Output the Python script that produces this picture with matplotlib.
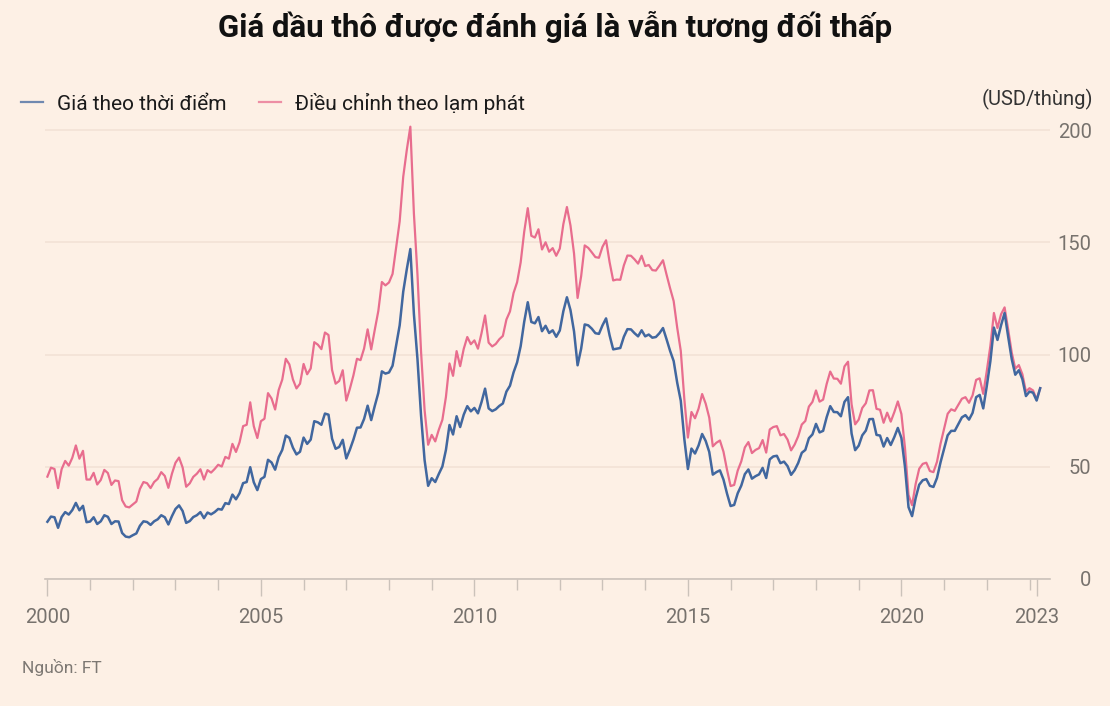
import matplotlib
matplotlib.use("Agg")
import matplotlib.pyplot as plt
import numpy as np

# ---------------- data (monthly, Jan 2000 - Apr 2023), USD/barrel ----------------
nominal = [
    # 2000
    25.5, 27.8, 27.5, 22.8, 27.6, 29.8, 28.7, 30.7, 33.9, 30.6, 32.6, 25.3,
    # 2001
    25.6, 27.5, 24.5, 25.7, 28.4, 27.7, 24.5, 25.7, 25.6, 20.5, 18.9, 18.6,
    # 2002
    19.5, 20.3, 23.7, 25.7, 25.4, 24.1, 25.7, 26.6, 28.4, 27.5, 24.3, 28.0,
    # 2003
    31.2, 32.8, 30.3, 25.0, 25.8, 27.6, 28.4, 29.8, 27.1, 29.6, 28.8, 29.8,
    # 2004
    31.2, 30.9, 33.8, 33.4, 37.6, 35.5, 38.2, 42.7, 43.2, 49.8, 43.1, 39.6,
    # 2005
    44.5, 45.5, 53.1, 51.9, 48.7, 54.3, 57.5, 63.9, 62.9, 58.5, 55.5, 56.7,
    # 2006
    63.0, 60.2, 62.1, 70.3, 69.8, 68.7, 73.7, 73.2, 62.5, 58.0, 58.8, 62.0,
    # 2007
    53.7, 57.6, 62.1, 67.4, 67.5, 71.3, 77.2, 70.8, 77.1, 82.9, 92.5, 91.5,
    # 2008
    92.0, 95.0, 104.0, 113.0, 128.0, 138.0, 147.0, 118.0, 98.0, 73.0, 53.0, 41.5,
    # 2009
    44.9, 43.2, 46.8, 50.1, 57.5, 68.6, 64.4, 72.5, 67.7, 73.2, 77.0, 74.7,
    # 2010
    76.2, 73.8, 78.8, 84.8, 76.0, 74.8, 75.6, 77.1, 78.2, 83.5, 86.1, 92.0,
    # 2011
    96.5, 103.7, 114.6, 123.3, 114.5, 113.9, 116.7, 110.4, 112.8, 109.6, 110.8, 107.9,
    # 2012
    110.7, 119.3, 125.5, 119.8, 110.3, 95.2, 102.6, 113.4, 113.0, 111.5, 109.5, 109.2,
    # 2013
    113.0, 116.1, 108.5, 102.3, 102.6, 102.9, 107.9, 111.3, 111.2, 109.5, 108.1, 110.8,
    # 2014
    108.1, 108.9, 107.5, 107.8, 109.5, 111.8, 106.8, 101.6, 97.1, 87.4, 79.4, 62.3,
    # 2015
    49.0, 58.1, 55.9, 59.5, 64.6, 61.5, 56.6, 46.5, 47.6, 48.4, 44.3, 38.0,
    # 2016
    32.5, 33.0, 38.2, 41.6, 46.7, 48.8, 44.7, 45.8, 46.6, 49.5, 45.0, 53.3,
    # 2017
    54.6, 54.9, 51.6, 52.3, 50.3, 46.4, 48.5, 51.7, 56.2, 57.5, 62.7, 64.4,
    # 2018
    69.1, 65.3, 66.0, 72.1, 77.0, 74.4, 74.3, 72.5, 78.9, 81.0, 64.8, 57.4,
    # 2019
    59.4, 64.0, 66.1, 71.2, 71.3, 64.2, 63.9, 59.0, 62.8, 59.7, 63.2, 67.3,
    # 2020
    62.8, 50.0, 32.0, 28.0, 36.0, 42.0, 44.0, 44.5, 41.5, 41.0, 45.0, 52.0,
    # 2021
    58.0, 64.0, 66.0, 66.0, 69.0, 72.0, 73.0, 71.0, 74.0, 81.0, 82.0, 76.0,
    # 2022
    86.0, 97.0, 112.0, 106.5, 113.0, 118.5, 108.0, 98.0, 91.0, 93.0, 89.0, 81.5,
    # 2023
    83.5, 83.0, 79.5, 85.0,
]

inflation_adjusted = [
    # 2000
    45.6, 49.6, 49.0, 40.5, 48.9, 52.6, 50.5, 54.0, 59.5, 53.6, 57.1, 44.3,
    # 2001
    44.3, 47.3, 42.1, 44.1, 48.6, 47.2, 41.9, 43.9, 43.6, 35.1, 32.3, 31.9,
    # 2002
    33.2, 34.5, 40.1, 43.2, 42.7, 40.5, 43.2, 44.6, 47.6, 45.9, 40.6, 46.9,
    # 2003
    51.8, 54.1, 49.7, 41.1, 42.6, 45.5, 46.9, 48.9, 44.3, 48.5, 47.4, 49.0,
    # 2004
    50.9, 50.1, 54.4, 53.6, 60.2, 56.6, 60.9, 68.1, 68.7, 78.7, 68.1, 62.8,
    # 2005
    70.3, 71.4, 82.8, 80.4, 75.5, 84.2, 88.8, 98.1, 95.6, 88.9, 84.9, 87.0,
    # 2006
    95.8, 91.2, 93.8, 105.5, 104.4, 102.4, 109.8, 108.7, 93.1, 87.0, 88.2, 93.0,
    # 2007
    79.5, 84.7, 90.7, 98.1, 97.5, 102.7, 111.2, 102.3, 111.0, 119.4, 132.3, 130.8,
    # 2008
    132.1, 135.9, 147.7, 159.3, 179.2, 191.1, 201.5, 162.8, 135.7, 101.5, 75.3, 59.8,
    # 2009
    64.2, 61.3, 66.5, 70.9, 81.1, 96.0, 90.5, 101.5, 94.8, 102.5, 107.8, 104.6,
    # 2010
    106.3, 102.6, 109.5, 117.4, 105.3, 103.6, 104.7, 106.8, 108.3, 115.6, 119.2, 127.4,
    # 2011
    132.2, 141.0, 154.7, 165.2, 152.9, 152.1, 155.8, 146.8, 150.0, 145.8, 147.4, 144.0,
    # 2012
    147.2, 158.1, 165.7, 157.5, 145.0, 125.2, 134.9, 148.6, 147.5, 145.5, 143.4, 143.1,
    # 2013
    148.0, 150.9, 141.1, 133.0, 133.4, 133.3, 139.7, 144.1, 144.0, 142.4, 140.5, 144.0,
    # 2014
    139.4, 139.9, 137.6, 137.4, 139.6, 142.0, 135.6, 129.5, 123.8, 111.9, 101.6, 80.1,
    # 2015
    63.0, 74.4, 71.6, 75.9, 82.4, 78.1, 71.9, 59.1, 60.7, 61.7, 56.7, 48.6,
    # 2016
    41.4, 41.9, 48.3, 52.4, 58.6, 61.0, 56.1, 57.5, 58.3, 61.9, 56.3, 66.6,
    # 2017
    67.7, 68.1, 64.0, 64.6, 62.1, 57.3, 59.9, 63.6, 68.8, 70.4, 76.8, 78.9,
    # 2018
    84.0, 79.0, 79.9, 86.9, 92.4, 89.3, 89.2, 87.0, 94.7, 96.8, 77.8, 68.9,
    # 2019
    71.0, 76.2, 78.3, 84.0, 84.1, 75.8, 75.4, 69.6, 74.1, 70.1, 74.3, 79.1,
    # 2020
    73.5, 58.5, 37.4, 32.9, 42.3, 49.1, 51.3, 51.8, 48.1, 47.6, 52.2, 60.3,
    # 2021
    67.0, 73.6, 75.6, 74.9, 77.6, 80.3, 81.0, 78.5, 81.8, 88.7, 89.4, 82.5,
    # 2022
    92.7, 103.8, 118.5, 111.8, 117.9, 121.0, 111.2, 100.9, 93.7, 95.3, 91.2, 83.5,
    # 2023
    85.0, 84.0, 80.0, 85.0,
]

start_year = 2000
labeled_years = [2000, 2005, 2010, 2015, 2020]
end_label = "2023"
minor_years = list(range(2000, 2024))
y_ticks = [0, 50, 100, 150, 200]

title = "Giá dầu thô được đánh giá là vẫn tương đối thấp"
label_nominal = "Giá theo thời điểm"
label_real = "Điều chỉnh theo lạm phát"
unit_label = "(USD/thùng)"
source = "Nguồn: FT"

# ---------------- style ----------------
BG = "#fdf0e5"
BLUE = "#41679f"
PINK = "#e86d8e"
GRID = "#f3e2d6"
AXIS = "#cbc2ba"
TICK_TXT = "#77726d"
FONT = ["Roboto", "DejaVu Sans"]
plt.rcParams["font.family"] = FONT

W, H = 1110, 706
fig = plt.figure(figsize=(W / 100, H / 100), dpi=100, facecolor=BG)

x0_px, x1_px = 45, 1050
y0_px, ytop_px = 579, 107.6
ax = fig.add_axes([x0_px / W, (H - y0_px) / H, (x1_px - x0_px) / W, (y0_px - ytop_px) / H])
ax.set_facecolor(BG)

n = len(nominal)
x = start_year + np.arange(n) / 12.0
ax.plot(x, inflation_adjusted, color=PINK, lw=1.6, solid_joinstyle="round", label=label_real, zorder=3)
ax.plot(x, nominal, color=BLUE, lw=1.8, solid_joinstyle="round", label=label_nominal, zorder=4)

ax.set_xlim(1999.944, 2023.48)
ax.set_ylim(0, 210)

for s in ["top", "left", "right"]:
    ax.spines[s].set_visible(False)
ax.spines["bottom"].set_color(AXIS)
ax.spines["bottom"].set_linewidth(1.2)

# y axis on right
ax.yaxis.tick_right()
ax.set_yticks(y_ticks)
ax.set_yticklabels([str(v) for v in y_ticks])
ax.tick_params(axis="y", length=0, pad=30, labelsize=14.5, labelcolor=TICK_TXT)
for lbl in ax.get_yticklabels():
    lbl.set_horizontalalignment("right")
ax.yaxis.grid(True, color=GRID, lw=1.2)
ax.set_axisbelow(True)

# x ticks
end_x = x[-1] - 1 / 12.0
major_pos = labeled_years + [end_x]
ax.set_xticks(major_pos)
ax.set_xticklabels([str(y) for y in labeled_years] + [end_label])
ax.set_xticks([y for y in minor_years if y not in labeled_years], minor=True)
ax.tick_params(axis="x", which="major", length=12, width=1, color=AXIS, pad=9,
               labelsize=14.5, labelcolor=TICK_TXT)
ax.tick_params(axis="x", which="minor", length=8, width=1, color=AXIS)

# legend
leg = ax.legend(handles=ax.get_lines()[::-1], loc="center left",
                bbox_to_anchor=(2 / W, 1 - 103 / H), bbox_transform=fig.transFigure,
                ncol=2, frameon=False, fontsize=15, handlelength=1.05,
                handletextpad=0.7, columnspacing=1.55)
for t in leg.get_texts():
    t.set_color("#1a1a1a")
for h in leg.get_lines():
    h.set_linewidth(1.6)
    h.set_alpha(0.75)

# texts
fig.text(0.5, 1 - 27 / H, title, ha="center", va="center", fontsize=22.5,
         fontweight="bold", color="#111111")
fig.text(1093 / W, 1 - 99 / H, unit_label, ha="right", va="center", fontsize=14.5,
         color="#333333")
fig.text(22 / W, 1 - 667 / H, source, ha="left", va="center", fontsize=12.5,
         color="#7d7873")

fig.savefig("out.png", dpi=100, facecolor=BG)
